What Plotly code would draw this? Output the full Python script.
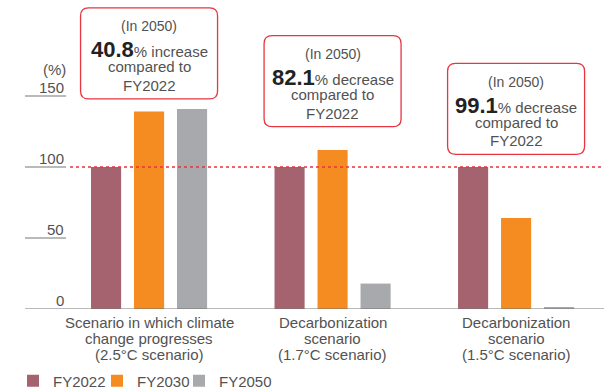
import plotly.graph_objects as go

# ---------------- data ----------------
categories = [
    ["Scenario in which climate", "change progresses", "(2.5°C scenario)"],
    ["Decarbonization", "scenario", "(1.7°C scenario)"],
    ["Decarbonization", "scenario", "(1.5°C scenario)"],
]
series_names = ["FY2022", "FY2030", "FY2050"]
fy2022 = [100, 100, 100]
fy2030 = [139, 112, 64]
fy2050 = [140.8, 17.9, 0.9]
y_ticks = [0, 50, 100, 150]
box_values = ["40.8", "82.1", "99.1"]
box_words = ["% increase", "% decrease", "% decrease"]
box_tops = [212, 192.5, 173]   # data-y of each callout's top edge

colors = ["#a4636f", "#f48c21", "#a8a9ac"]
TXT = "#525252"
RED = "#e8353f"
FONT = "Liberation Sans, Arial, sans-serif"

# ---------------- layout geometry ----------------
W, H = 604, 390
ML, MR, MT, MB = 25, 0, 0, 81
PW, PH = W - ML - MR, H - MT - MB
x_range = [-0.676, 2.479]
y_range = [0, 217.6]
px_x = (x_range[1] - x_range[0]) / PW   # data units per px
px_y = (y_range[1] - y_range[0]) / PH
legend_left_px = [13, 97, 179]

xs = list(range(len(categories)))
legend_ids = ["legend", "legend2", "legend3"]

fig = go.Figure()
for name, vals, col, lid in zip(series_names, [fy2022, fy2030, fy2050], colors, legend_ids):
    fig.add_trace(go.Bar(x=xs, y=vals, name=name, legend=lid,
                         marker=dict(color=col, line=dict(width=0))))

shapes = []
annotations = []

# baseline
shapes.append(dict(type="line", xref="paper", yref="y", x0=0, x1=1, y0=0, y1=0,
                   line=dict(color="#777777", width=1.2)))
# dotted 100 line
shapes.append(dict(type="line", xref="paper", yref="y", x0=45 / PW, x1=1, y0=100, y1=100,
                   line=dict(color=RED, width=1.5, dash="dot")))
# y ticks: short lines with labels above
tick_len = 41 / PW
for t in y_ticks:
    if t != 0:
        shapes.append(dict(type="line", xref="paper", yref="y", x0=0, x1=tick_len, y0=t, y1=t,
                           line=dict(color="#777777", width=1.2)))
    annotations.append(dict(xref="paper", yref="y", x=tick_len, y=t, text=str(t),
                            xanchor="right", yanchor="bottom", showarrow=False, yshift=-2,
                            font=dict(family=FONT, size=15, color=TXT)))
annotations.append(dict(xref="paper", yref="paper", x=(68 - ML) / PW, y=(PH - 69) / PH, text="(%)",
                        xanchor="right", yanchor="middle", showarrow=False,
                        font=dict(family=FONT, size=15, color=TXT)))

# category labels
for x, lines in zip(xs, categories):
    for i, ln in enumerate(lines):
        annotations.append(dict(xref="x", yref="y", x=x, y=0, text=ln, showarrow=False,
                                xanchor="center", yanchor="middle", yshift=-(13 + 16 * i),
                                font=dict(family=FONT, size=15, color=TXT)))

# callout boxes
bw, bh, r = 137, 91, 8
for x, top, val, word in zip(xs, box_tops, box_values, box_words):
    x0 = x - bw / 2 * px_x
    x1 = x + bw / 2 * px_x
    y1 = top
    y0 = top - bh * px_y
    rx, ry = r * px_x, r * px_y
    path = (f"M{x0+rx},{y1} L{x1-rx},{y1} Q{x1},{y1} {x1},{y1-ry} "
            f"L{x1},{y0+ry} Q{x1},{y0} {x1-rx},{y0} L{x0+rx},{y0} "
            f"Q{x0},{y0} {x0},{y0+ry} L{x0},{y1-ry} Q{x0},{y1} {x0+rx},{y1} Z")
    shapes.append(dict(type="path", xref="x", yref="y", path=path,
                       line=dict(color=RED, width=1.3), fillcolor="white", layer="above"))
    annotations.append(dict(xref="x", yref="y", x=x, y=top, text="(In 2050)", showarrow=False,
                            yanchor="middle", yshift=-18.5,
                            font=dict(family=FONT, size=14, color=TXT)))
    annotations.append(dict(xref="x", yref="y", x=x, y=top,
                            text=f"<span style='font-size:22px;font-weight:bold;color:#222222'>{val}</span>{word}",
                            showarrow=False, yanchor="middle", yshift=-42,
                            font=dict(family=FONT, size=15, color=TXT)))
    annotations.append(dict(xref="x", yref="y", x=x, y=top, text="compared to", showarrow=False,
                            yanchor="middle", yshift=-59,
                            font=dict(family=FONT, size=15, color=TXT)))
    annotations.append(dict(xref="x", yref="y", x=x, y=top, text="FY2022", showarrow=False,
                            yanchor="middle", yshift=-77.5,
                            font=dict(family=FONT, size=15, color=TXT)))

legend_common = dict(orientation="h", xanchor="left", y=(PH - 381) / PH, yanchor="middle",
                     font=dict(family=FONT, size=15, color=TXT), itemwidth=30,
                     bgcolor="rgba(0,0,0,0)")
legends = {}
for lid, lx in zip(legend_ids, legend_left_px):
    legends[lid] = dict(legend_common, x=(lx - ML) / PW)

fig.update_layout(
    width=W, height=H,
    margin=dict(l=ML, r=MR, t=MT, b=MB, pad=0, autoexpand=False),
    paper_bgcolor="white", plot_bgcolor="white",
    barmode="group", bargap=0.297, bargroupgap=0.30,
    xaxis=dict(range=x_range, showticklabels=False, showgrid=False, zeroline=False,
               showline=False, ticks=""),
    yaxis=dict(range=y_range, showticklabels=False, showgrid=False, zeroline=False,
               showline=False, ticks=""),
    shapes=shapes, annotations=annotations,
    showlegend=True,
    font=dict(family=FONT, color=TXT),
    **legends,
)

fig.write_html("out.html")
